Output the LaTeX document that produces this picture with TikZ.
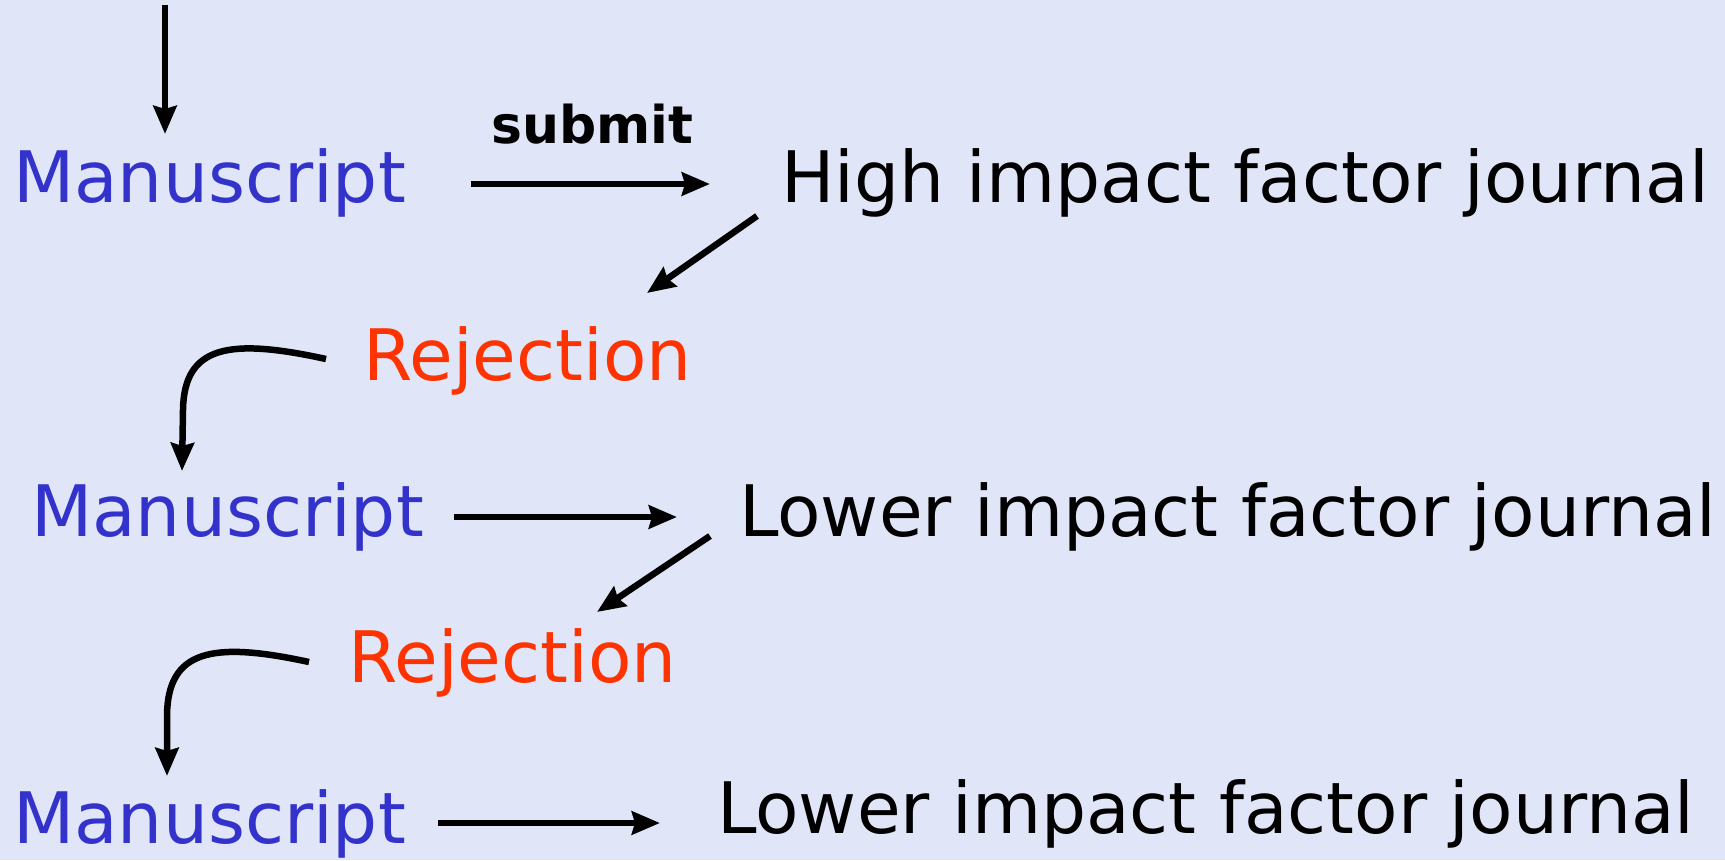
\documentclass[tikz,border=0pt]{standalone}
\usepackage{fontspec}
\setmainfont{DejaVu Sans}
\usetikzlibrary{arrows.meta,calc}
\definecolor{bg}{RGB}{224,230,248}
\definecolor{msblue}{RGB}{51,51,204}
\definecolor{rejred}{RGB}{255,51,0}
\begin{document}
\begin{tikzpicture}[x=1pt,y=-1pt,
  lbl/.style={anchor=base west,inner sep=0pt,font=\fontsize{71}{82}\selectfont},
  ms/.style={lbl,text=msblue},
  rej/.style={lbl,text=rejred},
  jr/.style={lbl,text=black},
  conn/.style={line width=6.5pt,-{Stealth[length=28pt,width=23pt,inset=3pt]}}]
\fill[bg] (0,0) rectangle (1725,860);
\useasboundingbox (0,0) rectangle (1725,860);
\node[ms] (m1) at (13,202) {Manuscript};
\node[jr] (h1) at (781,202) {High impact factor journal};
\node[anchor=base west,inner sep=0pt,font=\fontsize{52}{60}\selectfont\bfseries] (sub) at (491,143) {submit};
\node[rej] (r1) at (363,380) {Rejection};
\node[ms] (m2) at (31,536) {Manuscript};
\node[jr] (l1) at (739,536) {Lower impact factor journal};
\node[rej] (r2) at (348,682) {Rejection};
\node[ms] (m3) at (13,843) {Manuscript};
\node[jr] (l2) at (717,833) {Lower impact factor journal};
\coordinate (top) at (165,5);
% arrows
\draw[conn] (top) -- ($(m1.base west)+(152,-68)$);
\draw[conn] ($(m1.base west)+(458,-18)$) -- ($(h1.base west)+(-71,-18)$);
\draw[conn] ($(h1.base west)+(-24,14)$) -- ($(r1.base west)+(284,-87)$);
\draw[conn] ($(r1.base west)+(-37,-21)$) .. controls (230,338) and (184,345) .. (183,410) -- ($(m2.base west)+(151,-65)$);
\draw[conn] ($(m2.base west)+(423,-19)$) -- ($(l1.base west)+(-62,-19)$);
\draw[conn] ($(l1.base west)+(-29,0)$) -- ($(r2.base west)+(249,-70)$);
\draw[conn] ($(r2.base west)+(-39,-20)$) .. controls (212,641) and (168,650) .. (167,715) -- ($(m3.base west)+(154,-67)$);
\draw[conn] ($(m3.base west)+(425,-20)$) -- ($(l2.base west)+(-57,-10)$);
\end{tikzpicture}
\end{document}
